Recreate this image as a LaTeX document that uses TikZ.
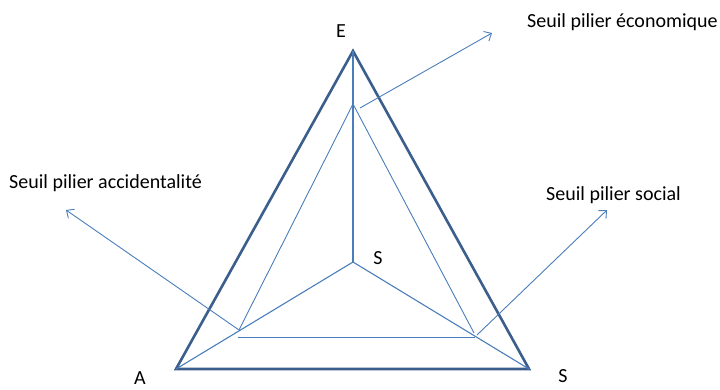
\documentclass[tikz,border=0pt]{standalone}
\usepackage{fontspec}
\setmainfont{Carlito}
\usepackage{xcolor}
\usetikzlibrary{arrows.meta}
\definecolor{outerblue}{HTML}{3B5E8C}
\definecolor{innerblue}{HTML}{4A7EBB}
\tikzset{
  outer/.style={draw=outerblue, line width=2.6pt, line join=miter},
  inner/.style={draw=innerblue, line width=0.9pt},
  axis/.style={draw=innerblue, line width=1.1pt},
  arrow/.style={-{Straight Barb[length=6pt, width=11pt]}, draw=innerblue, line width=0.9pt},
  label/.style={inner sep=0pt, text=black},
  every node/.style={font=\fontsize{20}{24}\selectfont}
}
\begin{document}
\begin{tikzpicture}[x=1pt, y=-1pt]
    \useasboundingbox (0,0) rectangle (720,390);
    % sommets du triangle
    \coordinate (E) at (353,51);
    \coordinate (A) at (176,369);
    \coordinate (S) at (529,369);
    \coordinate (C) at (353,262);
    % triangle des seuils
    \coordinate (iE) at (353,104);
    \coordinate (iA) at (239,330);
    \coordinate (iS) at (474,333);
    \coordinate (bA) at (238,337);
    \coordinate (bS) at (475,337);
    % extremites des fleches
    \coordinate (tE) at (492,33);
    \coordinate (tA) at (66,210);
    \coordinate (tS) at (607,210);

    \draw[outer] (E) -- (A) -- (S) -- cycle;
    \draw[axis] (E) -- (C);
    \draw[axis] (A) -- (C) -- (S);
    \draw[inner] (iA) -- (iE) -- (iS);
    \draw[inner] (bA) -- (bS);

    \draw[arrow] (360,108) -- (tE);
    \draw[arrow] (iA) -- (tA);
    \draw[arrow] (477,335) -- (tS);

    \node[label] (lE) at (341,31) {E};
    \node[label] (lA) at (140,378) {A};
    \node[label] (lS) at (563,376) {S};
    \node[label] (lC) at (378,258) {S};
    \node[label, anchor=west] (seco) at (527,22) {Seuil pilier économique};
    \node[label, anchor=west] (sacc) at (9,183) {Seuil pilier accidentalité};
    \node[label, anchor=west] (ssoc) at (546,195) {Seuil pilier social};
\end{tikzpicture}
\end{document}
